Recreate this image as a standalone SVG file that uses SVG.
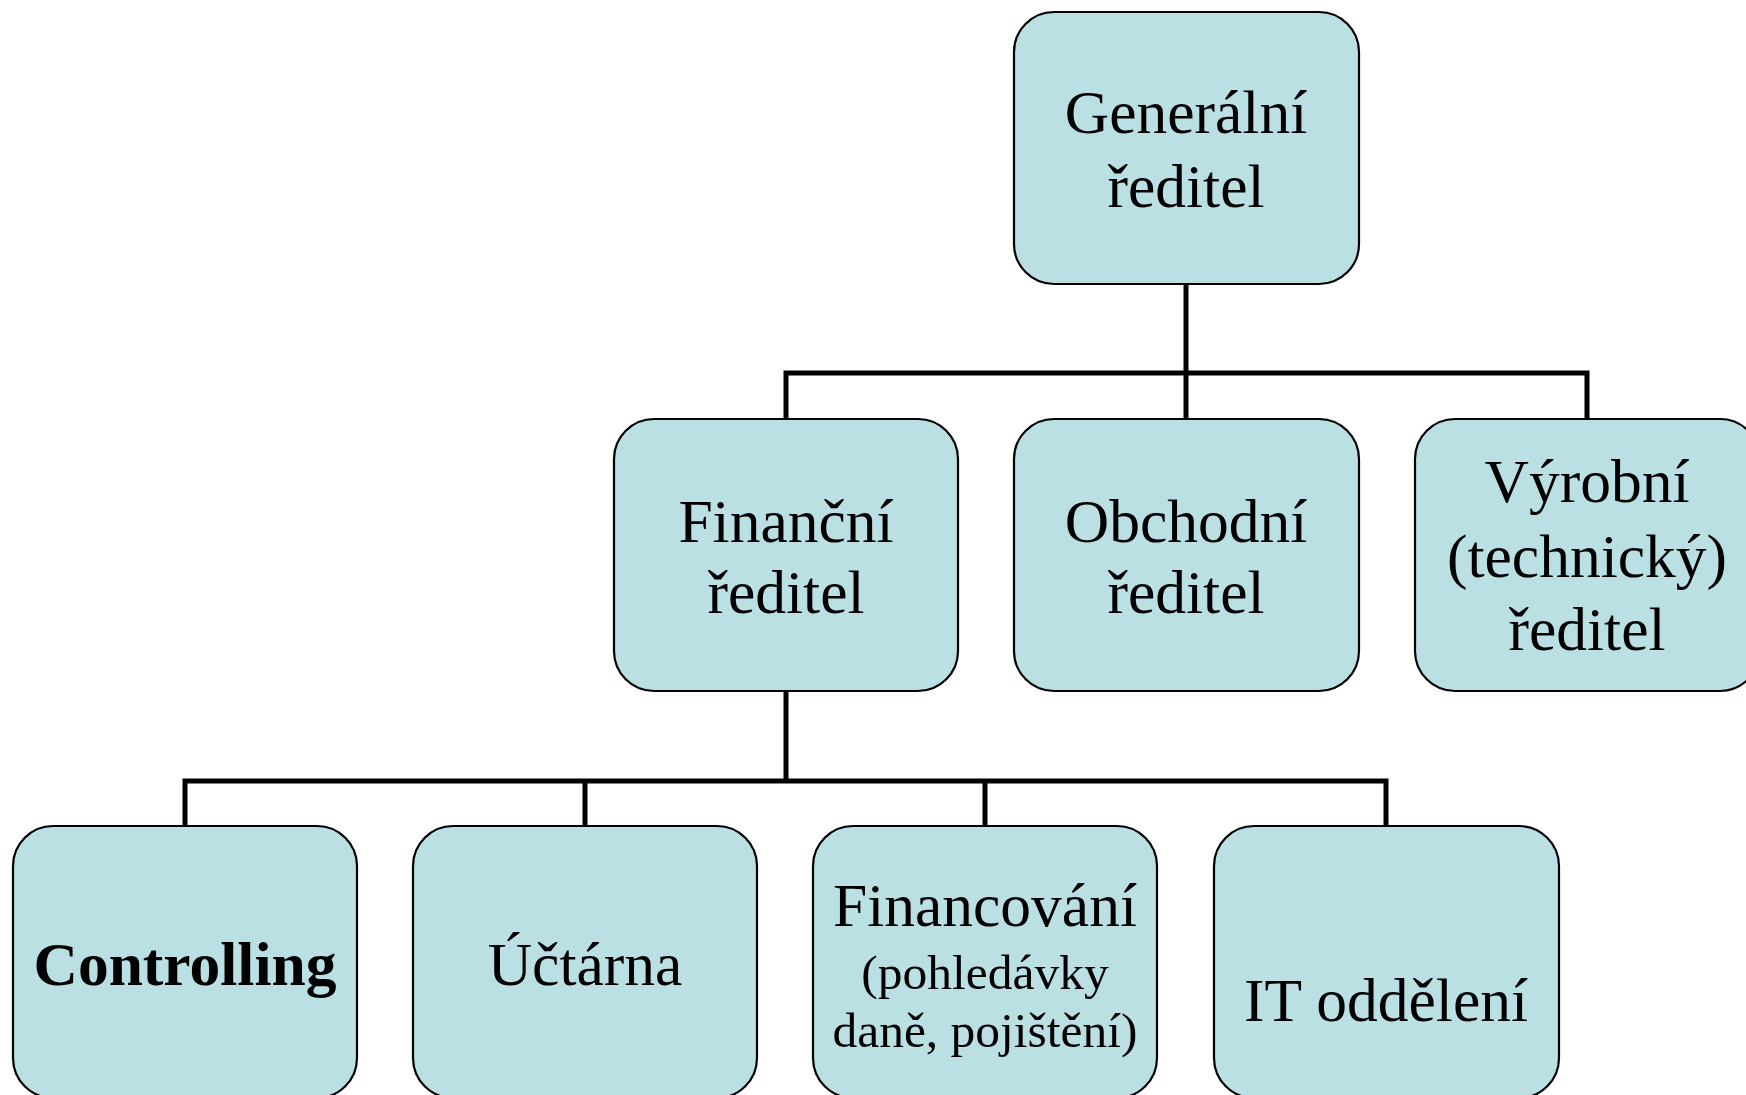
<svg xmlns="http://www.w3.org/2000/svg" width="1746" height="1095" viewBox="0 0 1746 1095">
<style>
.box{fill:#BBE0E3;stroke:#000;stroke-width:2.2}
.t{font-family:"Liberation Serif","Times New Roman",serif;font-size:61.5px;fill:#000;text-anchor:middle}
.s{font-size:49.5px}
.b{font-weight:bold}
.c{fill:none;stroke:#000;stroke-width:5;stroke-linecap:square}
</style>
<rect width="1746" height="1095" fill="#fff"/>
<g id="connectors">
<path class="c" d="M1186 284 V373 M786 419 V373 H1587 V419 M1186 373 V419"/>
<path class="c" d="M786 691 V781 M185 826 V781 H1386 V826 M585 781 V826 M985 781 V826"/>
</g>
<g id="generalni">
<rect class="box" x="1014" y="12" width="345" height="272" rx="40"/>
<text class="t" x="1186" y="133">Generální</text>
<text class="t" x="1186" y="207">ředitel</text>
</g>
<g id="financni">
<rect class="box" x="614" y="419" width="344" height="272" rx="40"/>
<text class="t" x="786" y="542">Finanční</text>
<text class="t" x="786" y="613">ředitel</text>
</g>
<g id="obchodni">
<rect class="box" x="1014" y="419" width="345" height="272" rx="40"/>
<text class="t" x="1186" y="542">Obchodní</text>
<text class="t" x="1186" y="613">ředitel</text>
</g>
<g id="vyrobni">
<rect class="box" x="1415" y="419" width="345" height="272" rx="40"/>
<text class="t" x="1587" y="502">Výrobní</text>
<text class="t" x="1587" y="577">(technický)</text>
<text class="t" x="1587" y="650">ředitel</text>
</g>
<g id="controlling">
<rect class="box" x="13" y="826" width="344" height="272" rx="40"/>
<text class="t b" x="185" y="985">Controlling</text>
</g>
<g id="uctarna">
<rect class="box" x="413" y="826" width="344" height="272" rx="40"/>
<text class="t" x="585" y="985">Účtárna</text>
</g>
<g id="financovani">
<rect class="box" x="813" y="826" width="344" height="272" rx="40"/>
<text class="t" x="985" y="926">Financování</text>
<text class="t s" x="985" y="989">(pohledávky</text>
<text class="t s" x="985" y="1047">daně, pojištění)</text>
</g>
<g id="it">
<rect class="box" x="1214" y="826" width="345" height="272" rx="40"/>
<text class="t" x="1386" y="1021">IT oddělení</text>
</g>
</svg>
